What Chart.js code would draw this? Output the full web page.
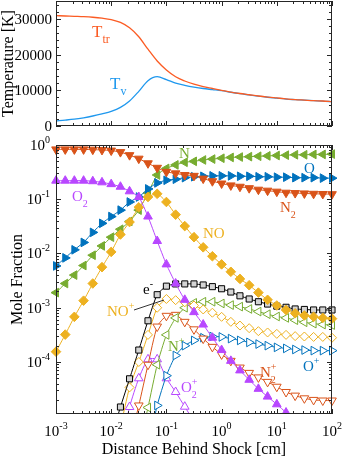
<!DOCTYPE html>
<html>
<head>
<meta charset="utf-8">
<script src="https://cdn.jsdelivr.net/npm/chart.js@4.4.1/dist/chart.umd.min.js"></script>
<style>
  html, body { margin: 0; padding: 0; background: #fff; }
  #wrap { position: relative; width: 342px; height: 457px; }
  canvas { position: absolute; left: 0; }
</style>
</head>
<body>
<div id="wrap">
  <canvas id="tempChart" width="342" height="135" style="top:0"></canvas>
  <canvas id="moleChart" width="342" height="322" style="top:135px"></canvas>
</div>
<script>
// distance behind shock [cm]
const dist = [0.001, 0.00147, 0.00215, 0.00316, 0.00464, 0.00681, 0.01, 0.0147, 0.0215, 0.0316,
  0.0464, 0.0681, 0.1, 0.147, 0.215, 0.316, 0.464, 0.681, 1, 1.47, 2.15, 3.16, 4.64, 6.81,
  10, 14.7, 21.5, 31.6, 46.4, 68.1, 100];

// temperatures [K]
const tTr = [30900, 30800, 30700, 30600, 30450, 30200, 29800, 29000, 27500, 25000, 21500, 18200,
  15700, 13800, 12600, 11700, 11000, 10500, 10000, 9500, 9100, 8750, 8400, 8100, 7850, 7600,
  7400, 7250, 7100, 7000, 6800];
const tV = [1450, 1650, 1900, 2300, 2800, 3400, 4100, 5200, 7000, 9700, 12700, 13800, 13000,
  12000, 11400, 10900, 10500, 10200, 9900, 9450, 9050, 8700, 8350, 8050, 7800, 7550, 7380,
  7220, 7080, 6980, 6800];

// mole fractions, neutrals
const xN2 = [0.83, 0.83, 0.83, 0.83, 0.82, 0.81, 0.79, 0.74, 0.65, 0.56, 0.46, 0.38, 0.32, 0.3,
  0.28, 0.27, 0.24, 0.215, 0.195, 0.18, 0.17, 0.16, 0.15, 0.144, 0.138, 0.132, 0.13, 0.128,
  0.126, 0.125, 0.124];
const xO2 = [0.22, 0.22, 0.22, 0.22, 0.215, 0.205, 0.19, 0.17, 0.14, 0.11, 0.048, 0.017, 0.0063,
  0.0028, 0.0014, 8.3e-4, 4.9e-4, 2.8e-4, 1.66e-4, 1.05e-4, 7e-5, 4.7e-5, 3.2e-5, 2.3e-5,
  1.66e-5, 1.17e-5, 8e-6, 5.5e-6, 4e-6, 3e-6, 2e-6];
const xN = [0.0019, 0.0028, 0.004, 0.006, 0.0093, 0.0138, 0.02, 0.028, 0.039, 0.063, 0.13, 0.28,
  0.37, 0.43, 0.48, 0.5, 0.53, 0.55, 0.57, 0.59, 0.6, 0.61, 0.62, 0.63, 0.64, 0.65, 0.66, 0.66,
  0.67, 0.67, 0.68];
const xO = [0.0059, 0.0083, 0.0117, 0.016, 0.0245, 0.036, 0.048, 0.063, 0.089, 0.11, 0.155, 0.2,
  0.224, 0.234, 0.25, 0.26, 0.265, 0.27, 0.27, 0.27, 0.265, 0.265, 0.26, 0.26, 0.255, 0.255,
  0.25, 0.25, 0.25, 0.245, 0.245];
const xNO = [1.55e-4, 3.2e-4, 6.8e-4, 1.35e-3, 2.8e-3, 5.6e-3, 0.0107, 0.0224, 0.038, 0.071, 0.11,
  0.126, 0.089, 0.052, 0.032, 0.02, 0.013, 0.0089, 0.0063, 0.0046, 0.0034, 0.0026, 0.0019,
  0.0014, 0.0011, 9.1e-4, 7.9e-4, 7.2e-4, 6.8e-4, 6.5e-4, 6.3e-4];

// mole fractions, charged
const xE = [null, null, null, null, null, null, 4e-6, 1.48e-5, 4.9e-5, 1.66e-4, 5.75e-4, 1.74e-3,
  2.5e-3, 2.75e-3, 2.75e-3, 2.75e-3, 2.63e-3, 2.45e-3, 2.24e-3, 1.95e-3, 1.66e-3, 1.45e-3,
  1.29e-3, 1.17e-3, 1.07e-3, 1.02e-3, 9.5e-4, 9.3e-4, 9.1e-4, 9.1e-4, 9.1e-4];
const xNOp = [null, null, null, null, null, null, null, 6.3e-6, 3.4e-5, 1e-4, 3.16e-4, 1e-3,
  1.45e-3, 1.38e-3, 1.26e-3, 1.1e-3, 9.3e-4, 8.1e-4, 6.8e-4, 5.5e-4, 4.7e-4, 4.2e-4, 3.7e-4,
  3.5e-4, 3.3e-4, 3.16e-4, 3.0e-4, 2.95e-4, 2.9e-4, 2.9e-4, 2.8e-4];
const xN2p = [null, null, null, null, null, null, null, null, 3.2e-6, 1.58e-5, 8.9e-5, 4.5e-4,
  7.1e-4, 7.4e-4, 5.5e-4, 4.0e-4, 2.7e-4, 1.9e-4, 1.38e-4, 1.05e-4, 7.9e-5, 6.3e-5, 5.2e-5,
  4.3e-5, 3.5e-5, 2.8e-5, 2.4e-5, 2.14e-5, 2.0e-5, 1.95e-5, 1.95e-5];
const xNp = [null, null, null, null, null, null, null, null, null, 2.5e-6, 1.45e-5, 8.9e-5,
  3.16e-4, 6.5e-4, 1e-3, 1.23e-3, 1.29e-3, 1.29e-3, 1.2e-3, 1.12e-3, 1.05e-3, 9.5e-4, 8.5e-4,
  7.6e-4, 6.9e-4, 6.5e-4, 5.9e-4, 5.4e-4, 5.1e-4, 4.9e-4, 4.8e-4];
const xOp = [null, null, null, null, null, null, null, null, null, null, 2.5e-6, 1.58e-5, 5.6e-5,
  1.32e-4, 2.0e-4, 2.5e-4, 2.8e-4, 2.95e-4, 2.9e-4, 2.7e-4, 2.5e-4, 2.3e-4, 2.14e-4, 2.0e-4,
  1.86e-4, 1.78e-4, 1.7e-4, 1.66e-4, 1.62e-4, 1.62e-4, 1.62e-4];
const xO2p = [null, null, null, null, null, null, null, 2.5e-6, 1.48e-5, 5e-5, 1.12e-4, 1.12e-4,
  5e-5, 2.8e-5, 1.5e-5, 8e-6, 4e-6, null, null, null, null, null, null, null, null, null, null,
  null, null, null, null];

const tempTicks = [0, 10000, 20000, 30000];
const decadesX = [-3, -2, -1, 0, 1, 2];
const decadesY = [-4, -3, -2, -1, 0];

const cN2 = "#d95319", cO2 = "#b847ff", cN = "#77ac30", cO = "#0072bd", cNO = "#edb120";
const axisColor = "#262626";
const serif = "'Liberation Serif', 'Times New Roman', serif";

function pts(arr) {
  return dist.map((x, i) => ({ x: x, y: arr[i] }));
}

function series(arr, color, style, rot, r, open) {
  return {
    data: pts(arr),
    borderColor: color,
    backgroundColor: color,
    borderWidth: 1,
    pointStyle: style,
    rotation: rot,
    pointRadius: r,
    pointBorderWidth: 1,
    pointBorderColor: color,
    pointBackgroundColor: open ? "#ffffff" : color,
    tension: 0.2,
    clip: { left: 8, right: 8, top: 8, bottom: 0 }
  };
}

// text with sub/superscripts: parts = [[text, kind]] kind: 0 normal, 1 sub, 2 sup, 3 sup stacked on prev sub
function rich(ctx, parts, x, y, size, color) {
  ctx.fillStyle = color;
  ctx.textAlign = "left";
  ctx.textBaseline = "alphabetic";
  let cx = x, lastX = x;
  parts.forEach(([t, kind]) => {
    if (kind === 0) {
      ctx.font = size + "px " + serif;
      ctx.fillText(t, cx, y);
      lastX = cx; cx += ctx.measureText(t).width;
    } else {
      ctx.font = Math.round(size * 0.68) + "px " + serif;
      const dy = kind === 1 ? size * 0.38 : -size * 0.45;
      const px = kind === 3 ? lastX : cx;
      ctx.fillText(t, px, y + dy);
      if (kind !== 3) { lastX = cx; cx += ctx.measureText(t).width; }
    }
  });
}

// 10^e label
function pow10(ctx, e, x, y, align) {
  ctx.font = "15px " + serif;
  const wb = ctx.measureText("10").width;
  const es = e < 0 ? "-" + (-e) : String(e);
  ctx.font = "10px " + serif;
  const we = ctx.measureText(es).width;
  let left = align === "center" ? x - (wb + we) / 2 : x - wb - we;
  ctx.fillStyle = "#000";
  ctx.textAlign = "left";
  ctx.textBaseline = "alphabetic";
  ctx.font = "15px " + serif;
  ctx.fillText("10", left, y);
  ctx.font = "10px " + serif;
  ctx.fillText(es, left + wb, y - 7);
}

function logTicks(lo, hi) {
  const out = [];
  for (let e = Math.floor(Math.log10(lo)); e <= Math.ceil(Math.log10(hi)); e++) {
    for (let m = 1; m <= 9; m++) {
      const v = m * Math.pow(10, e);
      if (v >= lo * 0.999 && v <= hi * 1.001) out.push({ v: v, major: m === 1 });
    }
  }
  return out;
}

const framePlugin = {
  id: "frame",
  afterDatasetsDraw(chart, args, o) {
    const ctx = chart.ctx, a = chart.chartArea;
    const xs = chart.scales.x, ys = chart.scales.y;
    ctx.save();
    ctx.strokeStyle = axisColor;
    ctx.lineWidth = 1;
    ctx.beginPath();
    // x ticks top and bottom
    logTicks(xs.min, xs.max).forEach(t => {
      const p = Math.round(xs.getPixelForValue(t.v)) + 0.5;
      const len = t.major ? 5 : 3;
      ctx.moveTo(p, a.bottom); ctx.lineTo(p, a.bottom - len);
      ctx.moveTo(p, a.top); ctx.lineTo(p, a.top + len);
    });
    // y ticks left and right
    const yt = o.logY ? logTicks(ys.min, ys.max)
      : Array.from({ length: 18 }, (_, i) => ({ v: i * 2000, major: i % 5 === 0 }));
    yt.forEach(t => {
      const p = Math.round(ys.getPixelForValue(t.v)) + 0.5;
      const len = t.major ? 5 : 3;
      ctx.moveTo(a.left, p); ctx.lineTo(a.left + len, p);
      ctx.moveTo(a.right, p); ctx.lineTo(a.right - len, p);
    });
    ctx.stroke();
    ctx.strokeRect(a.left + 0.5, a.top + 0.5, a.right - a.left - 1, a.bottom - a.top - 1);

    // tick labels
    if (o.logY) {
      decadesY.forEach(e => pow10(ctx, e, 50, ys.getPixelForValue(Math.pow(10, e)) + 5, "right"));
      decadesX.forEach(e => pow10(ctx, e, xs.getPixelForValue(Math.pow(10, e)), a.bottom + 22, "center"));
    } else {
      ctx.font = "15px " + serif;
      ctx.fillStyle = "#000";
      ctx.textAlign = "right";
      ctx.textBaseline = "alphabetic";
      tempTicks.forEach(v => ctx.fillText(String(v), 52, ys.getPixelForValue(v) + 5));
    }

    // axis titles
    ctx.fillStyle = "#000";
    ctx.font = "16px " + serif;
    ctx.textAlign = "center";
    ctx.textBaseline = "middle";
    ctx.save();
    ctx.translate(o.yTitleX, (a.top + a.bottom) / 2);
    ctx.rotate(-Math.PI / 2);
    ctx.fillText(o.yTitle, 0, 0);
    ctx.restore();
    if (o.xTitle) {
      ctx.textBaseline = "alphabetic";
      ctx.fillText(o.xTitle, (a.left + a.right) / 2, a.bottom + 40);
    }

    // curve labels
    (o.labels || []).forEach(l => rich(ctx, l.parts, l.x, l.y, l.size || 15, l.color));
    (o.leaders || []).forEach(l => {
      ctx.strokeStyle = "#000";
      ctx.lineWidth = 0.8;
      ctx.beginPath();
      ctx.moveTo(l[0], l[1]); ctx.lineTo(l[2], l[3]);
      ctx.stroke();
    });
    ctx.restore();
  }
};

const logX = { type: "logarithmic", min: 0.001, max: 100, display: false };

new Chart(document.getElementById("tempChart"), {
  type: "line",
  data: {
    datasets: [
      { data: pts(tTr), borderColor: "#fb5b23", borderWidth: 1.3, pointRadius: 0, cubicInterpolationMode: "monotone" },
      { data: pts(tV), borderColor: "#1f98ee", borderWidth: 1.3, pointRadius: 0, cubicInterpolationMode: "monotone" }
    ]
  },
  options: {
    responsive: false,
    animation: false,
    layout: { padding: { left: 56, right: 10, top: 1, bottom: 9 } },
    scales: {
      x: logX,
      y: { type: "linear", min: 0, max: 35000, display: false }
    },
    plugins: {
      legend: { display: false },
      tooltip: { enabled: false },
      frame: {
        logY: false,
        yTitle: "Temperature [K]",
        yTitleX: 9,
        labels: [
          { parts: [["T", 0], ["tr", 1]], x: 92, y: 37, size: 17, color: "#fb5b23" },
          { parts: [["T", 0], ["v", 1]], x: 110, y: 89, size: 17, color: "#1f98ee" }
        ]
      }
    }
  },
  plugins: [framePlugin]
});

const off = 135; // top of lower canvas on the page
new Chart(document.getElementById("moleChart"), {
  type: "line",
  data: {
    datasets: [
      series(xO2, cO2, "triangle", 0, 5, false),
      series(xNO, cNO, "rectRot", 0, 4.8, false),
      series(xN2, cN2, "triangle", 180, 5, false),
      series(xO, cO, "triangle", 90, 5, false),
      series(xN, cN, "triangle", 270, 5, false),
      Object.assign(series(xE, "#000000", "rect", 0, 4.3, false), { pointBackgroundColor: "#d4d4d4" }),
      series(xNOp, cNO, "rectRot", 0, 4.5, true),
      series(xNp, cN, "triangle", 270, 5, true),
      series(xN2p, cN2, "triangle", 180, 5, true),
      series(xOp, cO, "triangle", 90, 5, true),
      series(xO2p, cO2, "triangle", 0, 5, true)
    ]
  },
  options: {
    responsive: false,
    animation: false,
    layout: { padding: { left: 56, right: 10, top: 10, bottom: 43 } },
    scales: {
      x: logX,
      y: { type: "logarithmic", min: 1.1e-5, max: 1, display: false }
    },
    plugins: {
      legend: { display: false },
      tooltip: { enabled: false },
      frame: {
        logY: true,
        yTitle: "Mole Fraction",
        yTitleX: 18,
        xTitle: "Distance Behind Shock [cm]",
        labels: [
          { parts: [["N", 0]], x: 179, y: 158 - off, color: cN },
          { parts: [["O", 0]], x: 304, y: 173 - off, color: cO },
          { parts: [["N", 0], ["2", 1]], x: 280, y: 212 - off, color: cN2 },
          { parts: [["NO", 0]], x: 203, y: 238 - off, color: cNO },
          { parts: [["O", 0], ["2", 1]], x: 72, y: 201 - off, color: cO2 },
          { parts: [["e", 0], ["-", 2]], x: 143, y: 294 - off, color: "#000" },
          { parts: [["NO", 0], ["+", 2]], x: 107, y: 316 - off, color: cNO },
          { parts: [["N", 0], ["+", 2]], x: 168, y: 351 - off, color: cN },
          { parts: [["O", 0], ["2", 1], ["+", 3]], x: 181, y: 392 - off, color: cO2 },
          { parts: [["N", 0], ["2", 1], ["+", 3]], x: 260, y: 377 - off, color: cN2 },
          { parts: [["O", 0], ["+", 2]], x: 303, y: 371 - off, color: cO }
        ],
        leaders: [[134, 310 - off, 164, 300 - off]]
      }
    }
  },
  plugins: [framePlugin]
});
</script>
</body>
</html>
